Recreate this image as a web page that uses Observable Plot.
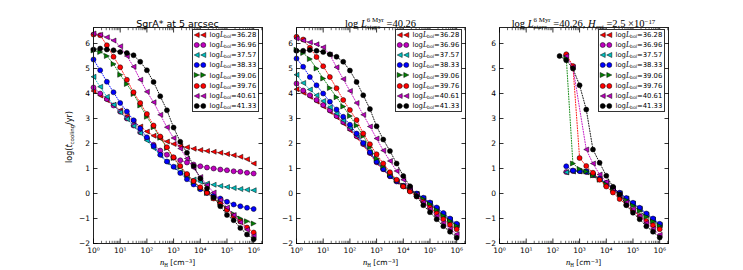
<!DOCTYPE html>
<html><head><meta charset="utf-8">
<script src="https://cdn.jsdelivr.net/npm/d3@7"></script>
<script src="https://cdn.jsdelivr.net/npm/@observablehq/plot@0.6"></script>
<style>
html,body{margin:0;padding:0;background:#fff;}
#fig{position:relative;width:743px;height:270px;overflow:hidden;background:#fff;font-family:"DejaVu Sans",sans-serif;color:#000;}
#fig svg{position:absolute;top:0;}
.title{position:absolute;top:14px;width:260px;text-align:center;white-space:nowrap;line-height:1;}
.t-sans{font:9.5px "DejaVu Sans",sans-serif;}
.t-math{font:10.5px "Liberation Serif",serif;}
.ss{display:inline-block;vertical-align:-0.32em;line-height:1.05;font-size:0.66em;text-align:left;}
.ss span{display:block;}
.legend{position:absolute;top:28.5px;width:67px;height:83px;border:1px solid #333;background:#fff;box-sizing:border-box;}
.row{position:absolute;left:0;height:10px;display:flex;align-items:center;font:6.8px "DejaVu Sans",sans-serif;white-space:nowrap;}
.row svg{position:static;}
.xlabel{position:absolute;top:258px;width:120px;text-align:center;font:7.5px "DejaVu Sans",sans-serif;line-height:1;white-space:nowrap;}
.ylabel{position:absolute;left:71px;top:137px;transform:translate(-50%,-50%) rotate(-90deg);font:8px "DejaVu Sans",sans-serif;white-space:nowrap;line-height:1;}
.sub{font-size:0.68em;vertical-align:-0.3em;}
.sup{font-size:0.68em;vertical-align:0.45em;}
.it{font-style:italic;}
.serif{font-family:"Liberation Serif",serif;}
</style></head><body><div id="fig"></div>
<script>
// ---- data ----
const logNH = [0,0.25,0.5,0.75,1,1.25,1.5,1.75,2,2.25,2.5,2.75,3,3.25,3.5,3.75,4,4.25,4.5,4.75,5,5.25,5.5,5.75,6];
const lbolLabels = ["36.28","36.96","37.57","38.33","39.06","39.76","40.61","41.33"];
const seriesColors = ["#ff0000","#bf00bf","#00bfbf","#0000ff","#008000","#ff0000","#bf00bf","#000000"];
const seriesMarkers = ["left","circle","left","circle","right","circle","left","circle"];
const xTickExponents = [0,1,2,3,4,5,6];
const yTicks = [-2,-1,0,1,2,3,4,5,6];

// Panel 1: SgrA* at 5 arcsec
const sgra_3628 = [4.10,3.92,3.73,3.53,3.33,3.10,2.88,2.68,2.48,2.31,2.20,2.08,1.98,1.90,1.85,1.79,1.74,1.70,1.67,1.63,1.58,1.53,1.47,1.37,1.20];
const sgra_3696 = [4.24,4.00,3.78,3.52,3.27,3.00,2.72,2.45,2.20,1.95,1.72,1.55,1.43,1.33,1.24,1.16,1.09,1.04,1.00,0.96,0.93,0.89,0.87,0.83,0.80];
const sgra_3757 = [4.67,4.27,3.87,3.55,3.25,2.98,2.70,2.42,2.12,1.82,1.52,1.25,1.05,0.86,0.70,0.56,0.47,0.40,0.35,0.30,0.26,0.22,0.18,0.15,0.13];
const sgra_3833 = [5.36,4.93,4.47,4.05,3.62,3.28,2.93,2.60,2.25,1.90,1.55,1.28,1.07,0.82,0.57,0.36,0.17,0.02,-0.09,-0.20,-0.33,-0.44,-0.51,-0.57,-0.62];
const sgra_3906 = [5.72,5.66,5.50,5.18,4.75,4.38,3.98,3.52,3.07,2.65,2.23,1.82,1.42,1.06,0.74,0.46,0.22,0.02,-0.18,-0.38,-0.60,-0.82,-1.00,-1.11,-1.20];
const sgra_3976 = [6.36,6.33,5.93,5.47,5.05,4.55,4.05,3.62,3.18,2.72,2.28,1.85,1.45,1.10,0.78,0.50,0.25,0.03,-0.20,-0.42,-0.65,-0.90,-1.12,-1.36,-1.56];
const sgra_4061 = [6.40,6.35,6.25,6.12,5.89,5.50,5.07,4.55,4.07,3.65,3.15,2.65,2.22,1.80,1.40,1.02,0.66,0.34,0.04,-0.26,-0.56,-0.86,-1.15,-1.45,-1.70];
const sgra_4133 = [5.76,5.80,5.76,5.73,5.66,5.62,5.53,5.27,4.93,4.46,3.89,3.33,2.64,2.07,1.63,1.10,0.60,0.20,-0.16,-0.51,-0.86,-1.07,-1.38,-1.64,-1.83];

// Panel 2: log L_stars = 40.26
const stars_3628 = [4.17,4.03,3.87,3.68,3.48,3.27,3.05,2.80,2.53,2.24,1.93,1.58,1.22,0.95,0.68,0.47,0.28,0.12,-0.03,-0.21,-0.41,-0.64,-0.87,-1.07,-1.28];
const stars_3696 = [4.40,4.12,3.93,3.74,3.54,3.33,3.10,2.86,2.60,2.30,1.98,1.62,1.25,0.97,0.69,0.48,0.29,0.13,-0.02,-0.20,-0.40,-0.63,-0.86,-1.06,-1.27];
const stars_3757 = [4.75,4.42,4.16,3.93,3.70,3.45,3.20,2.93,2.64,2.33,2.00,1.64,1.28,0.98,0.70,0.49,0.30,0.14,-0.01,-0.19,-0.39,-0.61,-0.84,-1.05,-1.26];
const stars_3833 = [5.40,5.07,4.66,4.33,4.00,3.67,3.36,3.07,2.75,2.40,2.02,1.65,1.28,0.98,0.70,0.50,0.31,0.15,0.00,-0.17,-0.36,-0.56,-0.78,-1.00,-1.21];
const stars_3906 = [5.75,5.62,5.38,5.00,4.60,4.22,3.85,3.48,3.10,2.72,2.30,1.85,1.40,1.10,0.78,0.53,0.32,0.14,-0.03,-0.22,-0.43,-0.66,-0.89,-1.10,-1.30];
const stars_3976 = [6.27,6.16,5.83,5.46,5.09,4.66,4.21,3.74,3.34,2.94,2.40,1.97,1.57,1.20,0.85,0.55,0.28,0.08,-0.12,-0.33,-0.56,-0.80,-1.03,-1.25,-1.43];
const stars_4061 = [6.20,6.12,6.05,5.97,5.85,5.55,5.05,4.58,4.10,3.62,3.15,2.68,2.20,1.72,1.30,0.90,0.55,0.22,-0.05,-0.35,-0.62,-0.90,-1.18,-1.42,-1.63];
const stars_4133 = [5.71,5.71,5.74,5.71,5.66,5.57,5.47,5.27,4.92,4.46,3.93,3.38,2.69,2.16,1.70,1.20,0.70,0.29,-0.11,-0.47,-0.75,-1.03,-1.31,-1.53,-1.77];

// Panel 3: log L_stars = 40.26, H_ext = 2.5e-17
const hext_3628 = [null,null,null,null,null,null,null,null,null,null,0.85,0.88,0.88,0.85,0.72,0.57,0.40,0.18,0.00,-0.22,-0.42,-0.62,-0.86,-1.06,-1.27];
const hext_3696 = [null,null,null,null,null,null,null,null,null,null,0.86,0.90,0.90,0.86,0.73,0.58,0.41,0.19,0.01,-0.21,-0.41,-0.61,-0.85,-1.05,-1.27];
const hext_3757 = [null,null,null,null,null,null,null,null,null,null,0.85,0.89,0.89,0.86,0.73,0.58,0.41,0.19,0.01,-0.20,-0.40,-0.61,-0.84,-1.04,-1.26];
const hext_3833 = [null,null,null,null,null,null,null,null,null,null,1.09,0.92,0.90,0.88,0.76,0.60,0.43,0.22,0.03,-0.18,-0.37,-0.57,-0.80,-1.00,-1.21];
const hext_3906 = [null,null,null,null,null,null,null,null,null,null,5.45,1.20,0.98,0.88,0.72,0.55,0.37,0.15,-0.05,-0.27,-0.48,-0.70,-0.93,-1.12,-1.30];
const hext_3976 = [null,null,null,null,null,null,null,null,null,null,5.57,5.10,1.42,1.10,0.83,0.55,0.28,0.04,-0.22,-0.45,-0.68,-0.90,-1.10,-1.27,-1.43];
const hext_4061 = [null,null,null,null,null,null,null,null,null,null,5.50,5.05,null,1.76,1.20,0.76,0.47,0.20,-0.07,-0.35,-0.62,-0.90,-1.18,-1.42,-1.65];
const hext_4133 = [null,null,null,null,null,null,null,null,null,5.50,5.33,5.00,4.33,3.36,1.76,1.23,0.71,0.27,-0.03,-0.47,-0.77,-1.03,-1.31,-1.53,-1.76];

const panelSeries = [
  [sgra_3628,sgra_3696,sgra_3757,sgra_3833,sgra_3906,sgra_3976,sgra_4061,sgra_4133],
  [stars_3628,stars_3696,stars_3757,stars_3833,stars_3906,stars_3976,stars_4061,stars_4133],
  [hext_3628,hext_3696,hext_3757,hext_3833,hext_3906,hext_3976,hext_4061,hext_4133]
];

// ---- layout ----
const panelLefts = [93, 296, 499];
const PW = 169, ML = 30, MR = 6, MT = 27, MB = 27, H = 270;
const xMax = 2.14e6;

const triLeft = {draw(ctx, size){ const r = Math.sqrt(size/Math.PI); ctx.moveTo(-r,0); ctx.lineTo(r,-r); ctx.lineTo(r,r); ctx.closePath(); }};
const triRight = {draw(ctx, size){ const r = Math.sqrt(size/Math.PI); ctx.moveTo(r,0); ctx.lineTo(-r,-r); ctx.lineTo(-r,r); ctx.closePath(); }};
const symbolFor = m => m === "left" ? triLeft : m === "right" ? triRight : "circle";

const majorX = xTickExponents.map(e => Math.pow(10, e));
const minorX = [];
for (const e of xTickExponents) for (let m = 2; m <= 9; m++) { const v = m * Math.pow(10, e); if (v <= xMax) minorX.push(v); }
const supDigits = {"0":"⁰","1":"¹","2":"²","3":"³","4":"⁴","5":"⁵","6":"⁶","7":"⁷","8":"⁸","9":"⁹","-":"⁻"};
const fmtX = v => "10" + String(Math.round(Math.log10(v))).split("").map(c => supDigits[c]).join("");
const fmtY = v => v < 0 ? "\u2212" + (-v) : String(v);
const blank = () => "";

const fig = document.getElementById("fig");

panelSeries.forEach((series, p) => {
  const marks = [];
  series.forEach((vals, i) => {
    const pts = logNH.map((l, j) => ({n: Math.pow(10, l), t: vals[j]})).filter(d => d.t !== null);
    marks.push(Plot.line(pts, {x: "n", y: "t", stroke: seriesColors[i], strokeWidth: 0.9, strokeDasharray: "1,1.6"}));
    marks.push(Plot.dot(pts, {x: "n", y: "t", r: 2.5, fill: seriesColors[i], stroke: "#000", strokeWidth: 0.5, symbol: symbolFor(seriesMarkers[i])}));
  });
  marks.push(
    Plot.frame({stroke: "#222", strokeWidth: 1}),
    Plot.axisX(majorX, {anchor: "bottom", tickSize: -4.5, tickFormat: blank, label: null, strokeWidth: 0.8}),
    Plot.axisX(majorX, {anchor: "top", tickSize: -4.5, tickFormat: blank, label: null, strokeWidth: 0.8}),
    Plot.axisX(minorX, {anchor: "bottom", tickSize: -2.2, tickFormat: blank, label: null, strokeWidth: 0.6}),
    Plot.axisX(minorX, {anchor: "top", tickSize: -2.2, tickFormat: blank, label: null, strokeWidth: 0.6}),
    Plot.axisX(majorX, {anchor: "bottom", tickSize: 0, tickPadding: 4.5, tickFormat: fmtX, label: null}),
    Plot.axisY(yTicks, {anchor: "left", tickSize: -4.5, tickFormat: blank, label: null, strokeWidth: 0.8}),
    Plot.axisY(yTicks, {anchor: "right", tickSize: -4.5, tickFormat: blank, label: null, strokeWidth: 0.8}),
    Plot.axisY(yTicks, {anchor: "left", tickSize: 0, tickPadding: 3.5, tickFormat: fmtY, label: null})
  );
  const chart = Plot.plot({
    width: ML + PW + MR, height: H,
    marginLeft: ML, marginRight: MR, marginTop: MT, marginBottom: MB,
    x: {type: "log", domain: [1, xMax]},
    y: {domain: [-2, 6.64]},
    style: {background: "transparent", fontFamily: "DejaVu Sans", fontSize: "7.5px", color: "#000", overflow: "visible"},
    marks
  });
  chart.style.left = (panelLefts[p] - ML) + "px";
  fig.appendChild(chart);

  // legend
  const lg = document.createElement("div");
  lg.className = "legend";
  lg.style.left = (panelLefts[p] + PW - 70) + "px";
  lbolLabels.forEach((lab, i) => {
    const row = document.createElement("div");
    row.className = "row";
    row.style.top = (34.5 + i * 10.2 - 5 - 29.5) + "px";
    const c = seriesColors[i], m = seriesMarkers[i];
    const mk = (cx) => m === "circle"
      ? `<circle cx="${cx}" cy="5" r="2.5" fill="${c}" stroke="#000" stroke-width="0.5"/>`
      : m === "left"
        ? `<path d="M${cx-2.5},5L${cx+2.5},2.5L${cx+2.5},7.5Z" fill="${c}" stroke="#000" stroke-width="0.5"/>`
        : `<path d="M${cx+2.5},5L${cx-2.5},2.5L${cx-2.5},7.5Z" fill="${c}" stroke="#000" stroke-width="0.5"/>`;
    row.innerHTML = `<svg width="16" height="10" style="position:static"><line x1="3.7" y1="5" x2="10.3" y2="5" stroke="${c}" stroke-width="0.9" stroke-dasharray="1,1.6"/>${mk(3.7)}${mk(10.3)}</svg>` +
      `<span style="margin-left:0.5px">log<span class="it serif" style="font-size:1.1em">L</span><span class="sub">bol</span>=${lab}</span>`;
    lg.appendChild(row);
  });
  fig.appendChild(lg);

  // x label
  const xl = document.createElement("div");
  xl.className = "xlabel";
  xl.style.left = (panelLefts[p] + PW / 2 - 60) + "px";
  xl.innerHTML = `<span class="it serif" style="font-size:1.15em">n</span><span class="sub serif">H</span> [cm<span class="sup">\u22123</span>]`;
  fig.appendChild(xl);
});

// titles
const titleHTML = [
  `<span class="t-sans">SgrA* at 5 arcsec</span>`,
  `<span class="t-math">log <i>L</i><span class="ss"><span>6 Myr</span><span><i>stars</i></span></span> =40.26</span>`,
  `<span class="t-math">log <i>L</i><span class="ss"><span>6 Myr</span><span><i>stars</i></span></span> =40.26, <i>H</i><span class="ss"><span>&nbsp;</span><span><i>ext</i></span></span> =2.5 \u00d710<span class="ss" style="vertical-align:0.45em"><span>\u221217</span></span></span>`
];
titleHTML.forEach((h, p) => {
  const t = document.createElement("div");
  t.className = "title";
  t.style.left = (panelLefts[p] + PW / 2 - 130) + "px";
  t.innerHTML = h;
  fig.appendChild(t);
});

const yl = document.createElement("div");
yl.className = "ylabel";
yl.innerHTML = `log(<span class="it">t</span><span class="sub">cooling</span>/yr)`;
fig.appendChild(yl);
</script></body></html>
